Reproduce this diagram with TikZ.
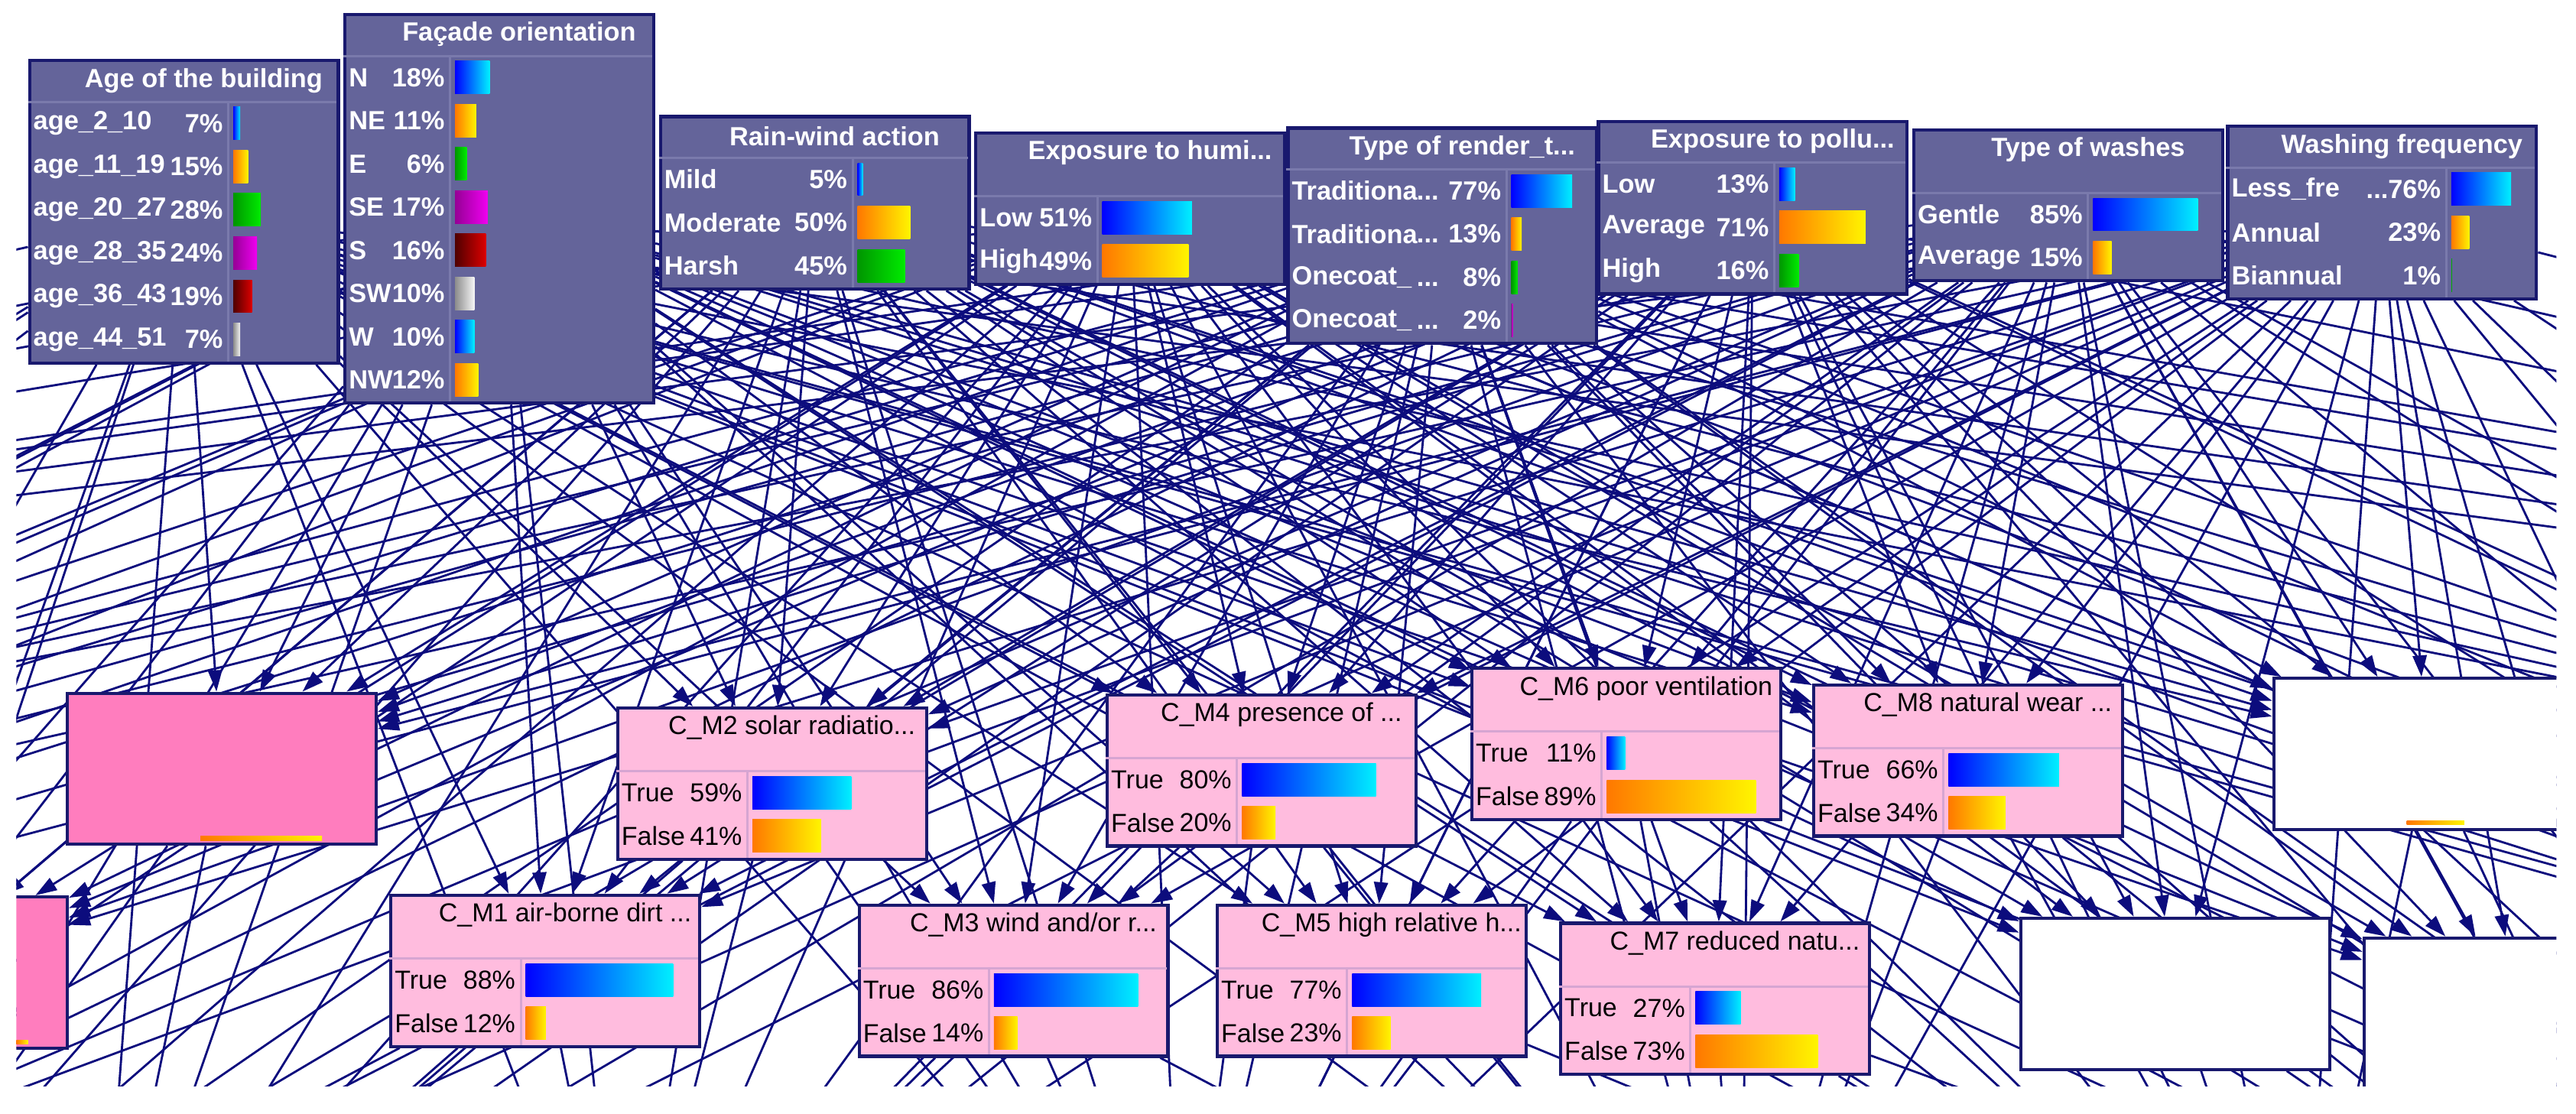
\documentclass[tikz,border=0pt]{standalone}
\usepackage{fontspec}
\setmainfont{Liberation Sans}
\usepackage{tikz}
\usetikzlibrary{arrows.meta, backgrounds}

\definecolor{netframe}{RGB}{25,25,110}
\definecolor{netedge}{RGB}{12,12,125}
\definecolor{netpurple}{RGB}{100,100,154}
\definecolor{netpurpleline}{RGB}{122,122,172}
\definecolor{netpink}{RGB}{255,188,222}
\definecolor{netpinkline}{RGB}{214,165,210}
\definecolor{nethot}{RGB}{255,125,190}
\definecolor{c1a}{RGB}{0,0,255}\definecolor{c1b}{RGB}{0,240,255}
\definecolor{c2a}{RGB}{255,120,0}\definecolor{c2b}{RGB}{255,245,0}
\definecolor{c3a}{RGB}{0,150,0}\definecolor{c3b}{RGB}{0,235,0}
\definecolor{c4a}{RGB}{150,0,150}\definecolor{c4b}{RGB}{240,0,240}
\definecolor{c5a}{RGB}{80,0,0}\definecolor{c5b}{RGB}{220,0,0}
\definecolor{c6a}{RGB}{140,140,140}\definecolor{c6b}{RGB}{245,245,245}

\tikzstyle{topbox} = [rectangle, anchor=north west, inner sep=0pt, minimum width=3.76cm, fill=netpurple, draw=netframe, line width=1.1pt]
\tikzstyle{topboxsep} = [draw=netpurpleline, line width=0.8pt]
\tikzstyle{topboxtext} = [inner sep=0pt, text=white, font=\bfseries\fontsize{9.1}{10}\selectfont]
\tikzstyle{pinkbox} = [rectangle, anchor=north west, inner sep=0pt, minimum width=3.76cm, fill=netpink, draw=netframe, line width=1.1pt]
\tikzstyle{pinkboxsep} = [draw=netpinkline, line width=0.8pt]
\tikzstyle{pinkboxtext} = [inner sep=0pt, text=black, font=\fontsize{9}{10}\selectfont]
\tikzstyle{hotbox} = [rectangle, anchor=north west, inner sep=0pt, minimum width=3.76cm, minimum height=1.84cm, fill=nethot, draw=netframe, line width=1.1pt]
\tikzstyle{blankbox} = [rectangle, anchor=north west, inner sep=0pt, minimum width=3.76cm, minimum height=1.84cm, fill=white, draw=netframe, line width=1.1pt]
\tikzstyle{arrow} = [draw=netedge, line width=0.75pt, -{Triangle[length=0.26cm, width=0.17cm]}]

% name, style, x, y, height, header, divider, title, states
\newcommand{\netnode}[9]{%
  \node (#1) [#2, minimum height=#5*0.02cm] at (#3,#4) {};
  \draw [#2sep] (#3,#4+#6) -- (#3+188,#4+#6);
  \draw [#2sep] (#3+#7,#4+#6) -- (#3+#7,#4+#5);
  \node [#2text] at (#3+107,#4+13) {#8};
  \foreach \lab/\pct/\col/\trunc [count=\i] in {#9} {
    \pgfmathsetmacro{\yc}{#4+#6+13.15+26.3*(\i-1)}
    \pgfmathsetmacro{\barlen}{\pct*(182-#7)/100}
    \node [#2text, anchor=west] at (#3+3,\yc) {\lab};
    \node [#2text, anchor=east] at (#3+#7-3,\yc) {\trunc\pct\%};
    \shade [left color=c\col a, right color=c\col b] (#3+#7+3,\yc-10) rectangle ++(\barlen,20);
  }
}

\begin{document}
\begin{tikzpicture}[x=0.02cm, y=-0.02cm]
\useasboundingbox (0,0) rectangle (1568,678);
\begin{scope}
\clip (10,0) rectangle (1556,661);

\netnode{age}{topbox}{17}{36}{184}{26}{122}{Age of the building}{age\_2\_10/7/1/{}, age\_11\_19/15/2/{}, age\_20\_27/28/3/{}, age\_28\_35/24/4/{}, age\_36\_43/19/5/{}, age\_44\_51/7/6/{}}
\netnode{facade}{topbox}{209}{8}{236.4}{26}{65}{Façade orientation}{N/18/1/{}, NE/11/2/{}, E/6/3/{}, SE/17/4/{}, S/16/5/{}, SW/10/6/{}, W/10/1/{}, NW/12/2/{}}
\netnode{rain}{topbox}{401}{70}{105}{26}{118}{Rain-wind action}{Mild/5/1/{}, Moderate/50/2/{}, Harsh/45/3/{}}
\netnode{humid}{topbox}{593}{80}{92}{39.4}{75}{Exposure to humi...}{Low/51/1/{}, High/49/2/{}}
\netnode{render}{topbox}{783}{77}{131.2}{26}{134}{Type of render\_t...}{Traditiona/77/1/{... }, Traditiona/13/2/{... }, Onecoat\_/8/3/{... \phantom{0}}, Onecoat\_/2/4/{... \phantom{0}}}
\netnode{pollut}{topbox}{972}{73}{105}{26}{108}{Exposure to pollu...}{Low/13/1/{}, Average/71/2/{}, High/16/3/{}}
\netnode{washes}{topbox}{1164}{78}{92}{39.4}{107}{Type of washes}{Gentle/85/1/{}, Average/15/2/{}}
\netnode{freq}{topbox}{1355}{76}{105}{26}{134}{Washing frequency}{Less\_fre/76/1/{...}, Annual/23/2/{}, Biannual/1/3/{}}

\netnode{cm2}{pinkbox}{375}{430}{92}{39.4}{80}{C\_M2 solar radiatio...}{True/59/1/{}, False/41/2/{}}
\netnode{cm4}{pinkbox}{673}{422}{92}{39.4}{80}{C\_M4 presence of ...}{True/80/1/{}, False/20/2/{}}
\netnode{cm6}{pinkbox}{895}{406}{92}{39.4}{80}{C\_M6 poor ventilation}{True/11/1/{}, False/89/2/{}}
\netnode{cm8}{pinkbox}{1103}{416}{92}{39.4}{80}{C\_M8 natural wear ...}{True/66/1/{}, False/34/2/{}}
\netnode{cm1}{pinkbox}{237}{544}{92}{39.4}{80}{C\_M1 air-borne dirt ...}{True/88/1/{}, False/12/2/{}}
\netnode{cm3}{pinkbox}{522}{550}{92}{39.4}{80}{C\_M3 wind and/or r...}{True/86/1/{}, False/14/2/{}}
\netnode{cm5}{pinkbox}{740}{550}{92}{39.4}{80}{C\_M5 high relative h...}{True/77/1/{}, False/23/2/{}}
\netnode{cm7}{pinkbox}{949}{561}{92}{39.4}{80}{C\_M7 reduced natu...}{True/27/1/{}, False/73/2/{}}

\node (defA) [hotbox] at (40,421) {};
\node (defB) [hotbox] at (-148,545) {};
\node (defC) [blankbox] at (1383,412) {};
\node (defD) [blankbox] at (1229,558) {};
\node (defE) [blankbox] at (1438,570) {};
\shade [left color=c2a, right color=c2b] (122,509) rectangle (196,511.5);
\shade [left color=c2a, right color=c2b] (10,633) rectangle (17,635.5);
\shade [left color=c2a, right color=c2b] (1465,499.5) rectangle (1500,502);

\coordinate (offL1) at (-330,467);
\coordinate (offL2) at (-1400,470);
\coordinate (offL3) at (-600,590);
\coordinate (offL4) at (-250,760);
\coordinate (offL5) at (-900,750);
\coordinate (offR1) at (1790,458);
\coordinate (offR2) at (1850,616);
\coordinate (offR3) at (2900,500);
\coordinate (offR4) at (1750,760);
\coordinate (offR5) at (2400,760);
\coordinate (offD0) at (-120,830);
\coordinate (offD1) at (60,830);
\coordinate (offD2) at (380,830);
\coordinate (offD3) at (720,830);
\coordinate (offD4) at (1060,830);
\coordinate (offD5) at (1400,830);
\coordinate (offD6) at (1650,830);

\begin{pgfonlayer}{background}
\clip (10,0) rectangle (1556,661);
\foreach \src in {age,facade,rain,humid,render,pollut,washes,freq} {
  \foreach \dst in {defA,defB,cm1,cm2,cm3,cm4,cm5,cm6,cm7,cm8,defC,defD,defE}
    \draw [arrow] (\src) -- (\dst);
  \foreach \dst in {offL1,offL2,offL3,offL4,offL5,offR1,offR2,offR3,offR4,offR5,offD0,offD1,offD2,offD3,offD4,offD5,offD6}
    \draw [arrow] (\src) -- (\dst);
}
\foreach \src/\dst in {cm2/offD1, cm2/offD2, cm2/offD3, cm4/offD2, cm4/offD3, cm4/offD4, cm6/offD3, cm6/offD4, cm6/offD5, cm8/offD4, cm8/offD5, cm8/offD6, defA/offD0, defA/offD1, defC/offD5, defC/offD6, cm1/offD0, cm1/offD1, cm1/offD2, cm3/offD2, cm3/offD3, cm3/offD4, cm5/offD3, cm5/offD4, cm5/offD5, cm7/offD4, cm7/offD5, cm7/offD6, defD/offD5, defD/offD6}
  \draw [arrow] (\src) -- (\dst);
\end{pgfonlayer}
\end{scope}
\end{tikzpicture}
\end{document}
